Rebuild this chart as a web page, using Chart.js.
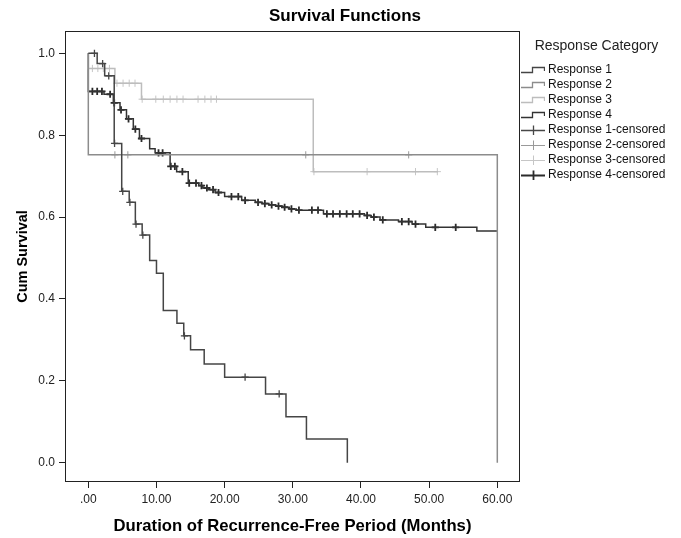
<!DOCTYPE html>
<html><head><meta charset="utf-8">
<script src="https://cdn.jsdelivr.net/npm/chart.js@4.4.1/dist/chart.umd.min.js"></script>
<style>html,body{margin:0;padding:0;background:#fff;}#wrap{width:681px;height:538px;}</style>
</head><body><div id="wrap"><canvas id="c" width="681" height="538" style="width:681px;height:538px"></canvas></div>
<script>
const FONT = "Arial, 'Liberation Sans', Helvetica, sans-serif";

// ---- categories / labels ----
const seriesNames = ['Response 1', 'Response 2', 'Response 3', 'Response 4'];
const censorNames = ['Response 1-censored', 'Response 2-censored', 'Response 3-censored', 'Response 4-censored'];
const xTicks = [0, 10, 20, 30, 40, 50, 60];
const xTickLabels = ['.00', '10.00', '20.00', '30.00', '40.00', '50.00', '60.00'];
const yTicks = [0, 0.2, 0.4, 0.6, 0.8, 1.0];
const yTickLabels = ['0.0', '0.2', '0.4', '0.6', '0.8', '1.0'];

// ---- Response 1 (steep curve) ----
const r1Time = [0, 1.3, 2.4, 3.8, 4.9, 6.0, 6.9, 7.9, 9.0, 10.0, 11.0, 13.0, 14.0, 15.0, 17.0, 20.0, 26.0, 29.0, 32.0, 38.0];
const r1Surv = [1.0, 0.975, 0.945, 0.78, 0.663, 0.636, 0.583, 0.556, 0.494, 0.463, 0.372, 0.341, 0.310, 0.276, 0.241, 0.209, 0.168, 0.1125, 0.058, 0.0];
const r1Cens = [0.9, 2.1, 3.0, 3.85, 5.05, 6.1, 7.0, 8.0, 14.1, 23.0, 28.0];

// ---- Response 2 ----
const r2Time = [0, 0, 60.0];
const r2Surv = [1.0, 0.752, 0.0];
const r2Cens = [3.9, 5.8, 31.9, 47.0];

// ---- Response 3 ----
const r3Time = [0, 0, 3.9, 7.8, 33.0, 51.3];
const r3Surv = [1.0, 0.963, 0.927, 0.888, 0.711, 0.711];
const r3Cens = [0.6, 1.4, 2.2, 3.1, 4.2, 5.1, 6.0, 6.85, 7.9, 9.9, 11.0, 12.0, 13.0, 13.9, 16.1, 17.1, 18.0, 18.8, 33.1, 40.9, 48.0, 51.2];

// ---- Response 4 (large group) ----
const r4Time = [0, 0, 2.3, 3.67, 4.65, 5.6, 6.6, 7.5, 9.0, 9.8, 12.0, 12.96, 14.66, 16.2, 16.8, 17.6, 18.6, 20.0, 22.5, 24.5, 25.5, 26.5, 27.5, 28.5, 29.5, 30.5, 34.5, 40.5, 41.5, 42.8, 45.5, 47.5, 49.5, 57.0, 60.0];
const r4Surv = [1.0, 0.907, 0.900, 0.879, 0.862, 0.840, 0.815, 0.792, 0.767, 0.757, 0.724, 0.711, 0.683, 0.677, 0.671, 0.667, 0.660, 0.650, 0.641, 0.636, 0.633, 0.630, 0.627, 0.624, 0.620, 0.617, 0.608, 0.604, 0.600, 0.593, 0.589, 0.583, 0.575, 0.566, 0.566];
const r4Cens = [0.6, 1.3, 2.0, 3.2, 3.8, 4.8, 5.9, 6.9, 7.8, 10.3, 10.9, 12.1, 12.7, 13.8, 14.8, 15.8, 16.6, 17.4, 18.3, 19.1, 21.0, 22.0, 23.0, 24.9, 25.9, 26.9, 27.9, 28.8, 29.8, 30.9, 32.8, 33.7, 35.0, 35.9, 36.9, 37.9, 38.8, 39.8, 40.9, 41.9, 43.2, 46.0, 47.0, 48.0, 50.9, 53.9];

// ---- styles ----
const lineColors = ['#454545', '#8c8c8c', '#bdbdbd', '#333333'];
const censColors = ['#474747', '#9a9a9a', '#c6c6c6', '#2b2b2b'];
const censWidths = [1.3, 1, 1, 1.8];

const seriesTime = [r1Time, r2Time, r3Time, r4Time];
const seriesSurv = [r1Surv, r2Surv, r3Surv, r4Surv];
const seriesCens = [r1Cens, r2Cens, r3Cens, r4Cens];

function stepPoints(times, surv) { return times.map((t, i) => ({x: t, y: surv[i]})); }
function levelAt(times, surv, t) { let v = surv[0]; for (let i = 0; i < times.length; i++) { if (times[i] <= t) v = surv[i]; } return v; }
function censPoints(times, surv, cens) { return cens.map(t => ({x: t, y: levelAt(times, surv, t)})); }

function stepIcon(color) {
  const c = document.createElement('canvas'); c.width = 25; c.height = 12;
  const g = c.getContext('2d'); g.strokeStyle = color; g.lineWidth = 1.3;
  g.beginPath(); g.moveTo(1, 8.5); g.lineTo(12.5, 8.5); g.lineTo(12.5, 3.5); g.lineTo(24.5, 3.5); g.lineTo(24.5, 7); g.stroke();
  return c;
}
function crossIcon(color, w) {
  const c = document.createElement('canvas'); c.width = 25; c.height = 12;
  const g = c.getContext('2d'); g.strokeStyle = color; g.lineWidth = w;
  g.beginPath(); g.moveTo(1, 6.5); g.lineTo(25, 6.5); g.moveTo(13.5, 1.5); g.lineTo(13.5, 11); g.stroke();
  return c;
}
const icons = [
  ...lineColors.map(c => stepIcon(c)),
  ...censColors.map((c, i) => crossIcon(c, censWidths[i]))
];

const datasets = [];
for (let i = 0; i < 4; i++) {
  datasets.push({
    label: seriesNames[i], data: stepPoints(seriesTime[i], seriesSurv[i]),
    showLine: true, stepped: true, borderColor: lineColors[i], backgroundColor: lineColors[i],
    borderWidth: 1.5, pointRadius: 0, fill: false
  });
}
for (let i = 0; i < 4; i++) {
  datasets.push({
    label: censorNames[i], data: censPoints(seriesTime[i], seriesSurv[i], seriesCens[i]),
    showLine: false, pointStyle: 'cross', pointRadius: 3.6, pointBorderWidth: censWidths[i],
    borderColor: censColors[i], backgroundColor: censColors[i], borderWidth: censWidths[i]
  });
}

const framePlugin = {
  id: 'frame',
  afterDatasetsDraw(chart) {
    const {ctx, chartArea: a} = chart;
    ctx.save(); ctx.strokeStyle = '#222'; ctx.lineWidth = 1;
    ctx.strokeRect(a.left + 0.5, a.top + 0.5, a.right - a.left - 1, a.bottom - a.top - 1);
    ctx.restore();
  }
};

new Chart(document.getElementById('c'), {
  type: 'scatter',
  data: {datasets},
  options: {
    responsive: false, animation: false, events: [],
    layout: {padding: {left: 17, right: 8, top: 0, bottom: 0}},
    scales: {
      x: {
        type: 'linear', min: -3.42, max: 63.33,
        afterBuildTicks: s => { s.ticks = xTicks.map(v => ({value: v})); },
        afterFit: s => { s.height = 56; },
        ticks: {callback: (v, i) => xTickLabels[i], font: {family: FONT, size: 12}, color: '#222', padding: 4, maxRotation: 0, autoSkip: false},
        grid: {display: true, drawOnChartArea: false, drawTicks: true, tickLength: 6, color: '#222', lineWidth: 1},
        border: {display: false},
        title: {display: true, text: 'Duration of Recurrence-Free Period (Months)', font: {family: FONT, size: 16.7, weight: 'bold'}, color: '#000', padding: {top: 0, bottom: 2}}
      },
      y: {
        type: 'linear', min: -0.047, max: 1.0545,
        afterBuildTicks: s => { s.ticks = yTicks.map(v => ({value: v})); },
        afterFit: s => { s.width = 48; },
        ticks: {callback: (v, i) => yTickLabels[i], font: {family: FONT, size: 12}, color: '#222', padding: 4, autoSkip: false},
        grid: {display: true, drawOnChartArea: false, drawTicks: true, tickLength: 6, color: '#222', lineWidth: 1},
        border: {display: false},
        title: {display: true, text: 'Cum Survival', font: {family: FONT, size: 14.5, weight: 'bold'}, color: '#000', padding: {top: -3, bottom: 0}}
      }
    },
    plugins: {
      tooltip: {enabled: false},
      title: {display: true, text: 'Survival Functions', font: {family: FONT, size: 17, weight: 'bold'}, color: '#000', padding: {top: 5.8, bottom: 4.8}},
      legend: {
        display: true, position: 'right', align: 'start', maxWidth: 153,
        title: {display: true, text: 'Response Category', position: 'center', color: '#222', font: {family: FONT, size: 14}, padding: {top: 39, bottom: 5.2}},
        labels: {
          usePointStyle: true, pointStyleWidth: 19, padding: 3, color: '#111',
          font: {family: FONT, size: 12},
          generateLabels(chart) {
            const items = Chart.defaults.plugins.legend.labels.generateLabels(chart);
            return items.map((it, i) => Object.assign(it, {pointStyle: icons[i], fontColor: '#111'}));
          }
        }
      }
    }
  },
  plugins: [framePlugin]
});
</script></body></html>
